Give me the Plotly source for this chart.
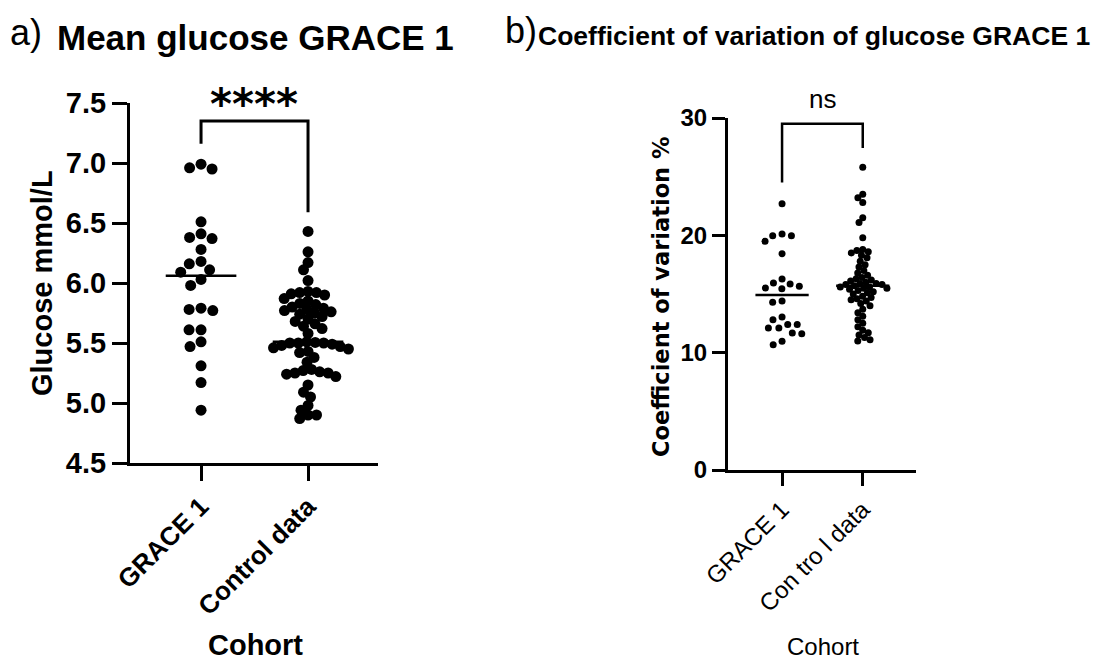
import numpy as np
import plotly.graph_objects as go

W, H = 1100, 664

categories = ["GRACE 1", "Control data"]
categories_b = ["GRACE 1", "Con tro l data"]

glucose_grace = [6.95, 6.99, 6.96, 6.51, 6.38, 6.37, 6.41, 6.28, 6.18, 6.16, 6.11, 6.09,
                 6.03, 5.98, 5.78, 5.79, 5.77, 5.61, 5.61, 5.51, 5.47, 5.31, 5.17, 4.94]
glucose_control = [6.43, 6.26, 6.17, 6.11, 6.02,
                   5.93, 5.92, 5.92, 5.91, 5.90,
                   5.87, 5.85, 5.83, 5.82, 5.80, 5.79, 5.78, 5.77, 5.76, 5.75, 5.74,
                   5.72, 5.70, 5.68, 5.66, 5.64, 5.62, 5.58,
                   5.505, 5.50, 5.51, 5.50, 5.50, 5.49, 5.48, 5.47, 5.46, 5.45, 5.43, 5.42,
                   5.38, 5.34,
                   5.28, 5.27, 5.26, 5.25, 5.25, 5.24, 5.22,
                   5.15, 5.09, 5.05, 4.98, 4.94, 4.90, 4.90, 4.87]

cv_grace = [22.7, 19.97, 19.97, 20.11, 19.49, 18.44, 16.28, 15.51, 15.94, 15.65, 15.85, 15.45,
            14.4, 14.29, 12.10, 12.39, 13.04, 12.39, 12.81, 12.10, 11.62, 11.68, 10.68, 10.97]
cv_control = [25.8, 23.5, 23.2, 22.8, 21.5, 21.1, 19.8, 18.8, 18.7, 18.6, 18.5, 18.3, 18.1, 17.8,
              17.5, 17.3, 17.0, 16.8, 16.6, 16.4, 16.3, 16.2, 16.1, 16.0, 15.9, 15.9, 15.8, 15.8,
              15.7,
              15.6, 15.6, 15.5, 15.5, 15.4, 15.3, 15.2, 15.1, 15.0, 14.8, 14.7, 14.6, 14.5, 14.4,
              14.2, 14.0, 13.7, 13.4, 13.1, 12.8, 12.5, 12.2, 11.9, 11.7, 11.5, 11.3, 11.1, 11.0]

# layout geometry (pixels)
A_X = (130, 378); A_Y = (463, 103); A_XR = [-0.664, 1.654]; A_YR = [4.5, 7.5]
B_X = (728, 916); B_Y = (470, 118); B_XR = [-0.67, 1.66]; B_YR = [0, 30]


def swarm(values, xpx_per_unit, ypx_per_unit, diam):
    vals = np.asarray(values, float)
    order = np.argsort(-vals, kind="stable")
    placed = []
    offs = np.zeros(len(vals))
    for i in order:
        y = vals[i] * ypx_per_unit
        cands = [0.0]
        for px_, py_ in placed:
            dy = y - py_
            if abs(dy) < diam:
                dx = np.sqrt(diam ** 2 - dy ** 2)
                cands += [px_ + dx, px_ - dx]
        cands.sort(key=lambda c: (round(abs(c), 6), c))
        chosen = 0.0
        for c in cands:
            if all((c - a) ** 2 + (y - b) ** 2 >= diam ** 2 - 1e-6 for a, b in placed):
                chosen = c
                break
        placed.append((chosen, y))
        offs[i] = chosen / xpx_per_unit
    return offs


def scales(xpx, ypx, xr, yr):
    return (xpx[1] - xpx[0]) / (xr[1] - xr[0]), (ypx[0] - ypx[1]) / (yr[1] - yr[0])

fig = go.Figure()
ax_sx, ax_sy = scales(A_X, A_Y, A_XR, A_YR)
bx_sx, bx_sy = scales(B_X, B_Y, B_XR, B_YR)

for idx, (vals, d) in enumerate([(glucose_grace, 12.0), (glucose_control, 8.5)]):
    off = swarm(vals, ax_sx, ax_sy, d)
    fig.add_trace(go.Scatter(x=idx + off, y=vals, mode="markers", xaxis="x", yaxis="y",
                             marker=dict(size=11, color="black"), showlegend=False))
for idx, (vals, d) in enumerate([(cv_grace, 9.5), (cv_control, 6.0)]):
    off = swarm(vals, bx_sx, bx_sy, d)
    fig.add_trace(go.Scatter(x=idx + off, y=vals, mode="markers", xaxis="x2", yaxis="y2",
                             marker=dict(size=7, color="black"), showlegend=False))

shapes = []
for idx, vals in enumerate([glucose_grace, glucose_control]):
    m = float(np.median(vals))
    shapes.append(dict(type="line", xref="x", yref="y", x0=idx - 0.33, x1=idx + 0.33, y0=m, y1=m,
                       line=dict(color="black", width=2.5)))
for idx, vals in enumerate([cv_grace, cv_control]):
    m = float(np.median(vals))
    shapes.append(dict(type="line", xref="x2", yref="y2", x0=idx - 0.33, x1=idx + 0.33, y0=m, y1=m,
                       line=dict(color="black", width=2.5)))
shapes.append(dict(type="path", xref="x", yref="y", path="M 0,7.16 L 0,7.35 L 1,7.35 L 1,6.59",
                   line=dict(color="black", width=3)))
shapes.append(dict(type="path", xref="x2", yref="y2", path="M 0,24.5 L 0,29.51 L 1,29.51 L 1,27.44",
                   line=dict(color="black", width=2.5)))

ARIAL = "Liberation Sans, Arial, sans-serif"


def px(x):
    return x / W


def py(y):
    return 1 - y / H

ann = []
def add(text, x, y, size, family=ARIAL, weight="normal", xanchor="center", angle=0):
    ann.append(dict(text=text, x=px(x), y=py(y), xref="paper", yref="paper", showarrow=False,
                    xanchor=xanchor, yanchor="middle", textangle=angle,
                    font=dict(size=size, family=family, weight=weight, color="black")))

add("a)", 8, 33, 36, xanchor="left")
add("Mean glucose GRACE 1", 55, 37, 35, weight="bold", xanchor="left")
add("b)", 503, 30, 36, xanchor="left")
add("Coefficient of variation of glucose GRACE 1", 536, 36, 26.5, weight="bold", xanchor="left")
add("Glucose mmol/L", 42, 283, 29, weight="bold", angle=-90)
add("Cohort", 255, 645, 29, weight="bold")
add("Coefficient of variation %", 661, 297, 22.5, family="DejaVu Sans", weight="bold", angle=-90)
add("Cohort", 823, 646, 24)
add("****", 254, 105, 42, family="DejaVu Sans", weight="bold")
add("ns", 822, 99, 26)

axis_common = dict(showline=True, linecolor="black", linewidth=3, ticks="outside", tickcolor="black",
                   tickwidth=3, showgrid=False, zeroline=False, automargin=False)

fig.update_layout(
    template="none",
    width=W, height=H, margin=dict(l=0, r=0, t=0, b=0, pad=0), autosize=False,
    paper_bgcolor="white", plot_bgcolor="white", showlegend=False,
    xaxis=dict(domain=[px(A_X[0]), px(A_X[1])], range=A_XR, anchor="y", tickvals=[0, 1],
               ticktext=categories, tickangle=-45, ticklen=15,
               tickfont=dict(size=26, family=ARIAL, weight="bold", color="black"), **axis_common),
    yaxis=dict(domain=[py(A_Y[0]), py(A_Y[1])], range=A_YR, anchor="x", tick0=4.5, dtick=0.5,
               tickformat=".1f", ticklen=15,
               tickfont=dict(size=29, family=ARIAL, weight="bold", color="black"), **axis_common),
    xaxis2=dict(domain=[px(B_X[0]), px(B_X[1])], range=B_XR, anchor="y2", tickvals=[0, 1],
                ticktext=categories_b, tickangle=-45, ticklen=13,
                tickfont=dict(size=24, family=ARIAL, color="black"), **axis_common),
    yaxis2=dict(domain=[py(B_Y[0]), py(B_Y[1])], range=B_YR, anchor="x2", tick0=0, dtick=10,
                ticklen=13,
                tickfont=dict(size=24, family=ARIAL, weight="bold", color="black"), **axis_common),
    shapes=shapes, annotations=ann,
)

fig.write_html("out.html")
